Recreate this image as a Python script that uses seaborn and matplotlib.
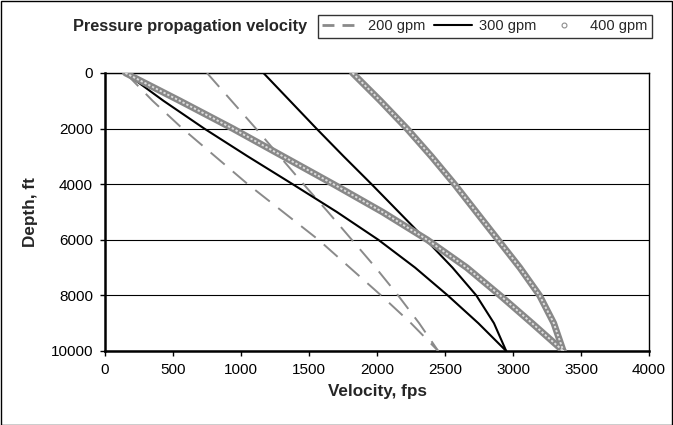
import numpy as np
import pandas as pd
import matplotlib
matplotlib.use("Agg")
import matplotlib.pyplot as plt
import seaborn as sns
from matplotlib.lines import Line2D
from matplotlib.patches import Rectangle

# ---- data ----
depth_ft = [0, 1000, 2000, 3000, 4000, 5000, 6000, 7000, 8000, 9000, 10000]
# 200 gpm (two branches)
v200_a = [150, 350, 570, 810, 1050, 1310, 1570, 1800, 2030, 2250, 2450]
v200_b = [750, 930, 1110, 1285, 1460, 1640, 1815, 1990, 2155, 2310, 2450]
# 300 gpm
v300_a = [150, 430, 730, 1050, 1380, 1705, 2010, 2280, 2520, 2745, 2950]
v300_b = [1165, 1360, 1555, 1755, 1960, 2160, 2360, 2555, 2730, 2860, 2950]
# 400 gpm
v400_a = [150, 550, 940, 1310, 1680, 2040, 2370, 2660, 2905, 3140, 3370]
v400_b = [1820, 2025, 2220, 2400, 2570, 2730, 2890, 3050, 3195, 3300, 3370]

series_names = ["200 gpm", "300 gpm", "400 gpm"]
x_ticks = [0, 500, 1000, 1500, 2000, 2500, 3000, 3500, 4000]
y_ticks = [0, 2000, 4000, 6000, 8000, 10000]

rows = []
for name, br, vals in [("200 gpm", "a", v200_a), ("200 gpm", "b", v200_b),
                       ("300 gpm", "a", v300_a), ("300 gpm", "b", v300_b),
                       ("400 gpm", "a", v400_a), ("400 gpm", "b", v400_b)]:
    for d, v in zip(depth_ft, vals):
        rows.append({"series": name, "branch": br, "depth": d, "velocity": v})
df = pd.DataFrame(rows)

sns.set_theme(style="white")
plt.rcParams["font.family"] = ["Liberation Sans", "DejaVu Sans"]

W, H = 673, 425
fig = plt.figure(figsize=(W / 100, H / 100), dpi=100)
L, R, T, B = 105, 649, 73, 351
ax = fig.add_axes([L / W, 1 - B / H, (R - L) / W, (B - T) / H])

gray = "#8a8a8a"
for br in ["a", "b"]:
    sub = df[(df.series == "200 gpm") & (df.branch == br)]
    sns.lineplot(data=sub, x="velocity", y="depth", sort=False, estimator=None,
                 color=gray, lw=1.4, linestyle=(0, (9.5, 5.5)), ax=ax, zorder=3)
for br in ["a", "b"]:
    sub = df[(df.series == "300 gpm") & (df.branch == br)]
    sns.lineplot(data=sub, x="velocity", y="depth", sort=False, estimator=None,
                 color="black", lw=1.5, ax=ax, zorder=4)
for br in ["a", "b"]:
    sub = df[(df.series == "400 gpm") & (df.branch == br)]
    sns.lineplot(data=sub, x="velocity", y="depth", sort=False, estimator=None,
                 color="#888888", lw=4.8, ax=ax, zorder=5,
                 solid_capstyle="round", solid_joinstyle="round")
    sns.lineplot(data=sub, x="velocity", y="depth", sort=False, estimator=None,
                 color="#dddddd", lw=1.4, linestyle=(0, (1.2, 1.0)), ax=ax, zorder=6)

ax.set_xlim(0, 4000)
ax.set_ylim(10000, 0)
ax.set_xticks(x_ticks)
ax.set_yticks(y_ticks)
ax.set_xticklabels([str(t) for t in x_ticks])
ax.set_yticklabels([str(t) for t in y_ticks])
ax.yaxis.grid(True, color="black", lw=0.8)
ax.set_axisbelow(True)
for s in ["left", "bottom"]:
    ax.spines[s].set_linewidth(1.8)
    ax.spines[s].set_color("black")
for s in ["top", "right"]:
    ax.spines[s].set_linewidth(1.0)
    ax.spines[s].set_color("black")
ax.tick_params(axis="both", which="major", direction="out", length=3.6, width=1,
               color="black", labelsize=11, labelcolor="black",
               left=True, bottom=True)
ax.tick_params(axis="y", pad=5)
ax.tick_params(axis="x", pad=5)
ax.set_xlabel("Velocity, fps", fontsize=12.3, fontweight="bold", labelpad=5)
ax.set_ylabel("Depth, ft", fontsize=12.3, fontweight="bold", labelpad=9)

# legend
handles = [
    Line2D([], [], color=gray, lw=2.0, linestyle=(0, (4.3, 2.9))),
    Line2D([], [], color="black", lw=1.5),
    Line2D([], [], color="#8c8c8c", lw=0, marker="o", markersize=3.5,
           markerfacecolor="none", markeredgewidth=0.8),
]
leg = fig.legend(handles, series_names, loc="upper left",
                 bbox_to_anchor=(318 / W, 1 - 15 / H), ncol=3, fontsize=10.5,
                 frameon=True, fancybox=False, edgecolor="black",
                 handlelength=2.6, handletextpad=0.5, columnspacing=0.6,
                 borderpad=0.3, borderaxespad=0)
leg.get_frame().set_linewidth(1.0)
fig.text(73 / W, 1 - 27 / H, "Pressure propagation velocity", fontsize=11.8,
         fontweight="bold", va="center", ha="left")

fig.patches.append(Rectangle((0.5 / W, 0.5 / H), 1 - 1.5 / W, 1 - 1.5 / H,
                             transform=fig.transFigure, fill=False,
                             edgecolor="black", lw=1.0))

fig.savefig("out.png", dpi=100)
